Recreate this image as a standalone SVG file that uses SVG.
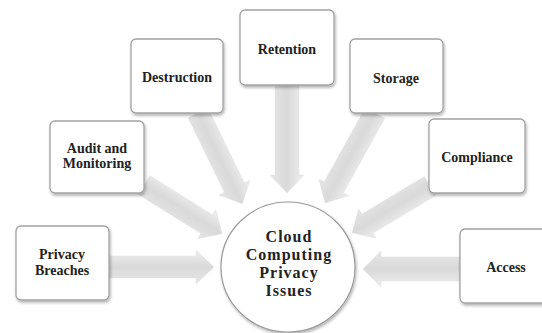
<svg xmlns="http://www.w3.org/2000/svg" width="542" height="333" viewBox="0 0 542 333">
<defs>
<linearGradient id="ag" x1="0" y1="0" x2="0" y2="1">
<stop offset="0" stop-color="#efefef"/>
<stop offset="0.5" stop-color="#d9d9d9"/>
<stop offset="1" stop-color="#e6e6e6"/>
</linearGradient>
<filter id="sh" x="-20%" y="-20%" width="140%" height="140%">
<feDropShadow dx="1" dy="2" stdDeviation="1.5" flood-color="#000" flood-opacity="0.3"/>
</filter>
</defs>
<style>
.box{fill:#fff;stroke:#a2a2a2;stroke-width:1.3;filter:url(#sh)}
.t{font-family:"Liberation Serif","Times New Roman",serif;font-weight:bold;font-size:14px;fill:#222;text-anchor:middle}
.c{font-family:"Liberation Serif","Times New Roman",serif;font-weight:bold;font-size:16px;letter-spacing:1px;fill:#222;text-anchor:middle}
.a{fill:url(#ag);stroke:#e0e0e0;stroke-width:0.5}
</style>
<rect width="542" height="333" fill="#fff"/>
<g id="connectors">
<path class="a" transform="translate(109,267)" d="M0,-11 L87,-11 L87,-17 L105,0 L87,17 L87,11 L0,11 Z"/>
<path class="a" transform="translate(460,269) rotate(180)" d="M0,-12 L79,-12 L79,-18 L97,0 L79,18 L79,12 L0,12 Z"/>
<path class="a" transform="translate(144,185) rotate(32)" d="M0,-11 L74,-11 L74,-17 L92,0 L74,17 L74,11 L0,11 Z"/>
<path class="a" transform="translate(198,113) rotate(64)" d="M0,-11 L83,-11 L83,-17 L101,0 L83,17 L83,11 L0,11 Z"/>
<path class="a" transform="translate(287,85) rotate(90)" d="M0,-12 L90,-12 L90,-17 L108,0 L90,17 L90,12 L0,12 Z"/>
<path class="a" transform="translate(375,113) rotate(119)" d="M0,-11 L85,-11 L85,-17 L103,0 L85,17 L85,11 L0,11 Z"/>
<path class="a" transform="translate(430,186) rotate(149)" d="M0,-11 L73,-11 L73,-17 L91,0 L73,17 L73,11 L0,11 Z"/>
</g>
<g id="privacy-breaches">
<rect class="box" x="16" y="226" width="93" height="74" rx="5"/>
<text class="t" x="62" y="259">Privacy</text>
<text class="t" x="62" y="275">Breaches</text>
</g>
<g id="audit-monitoring">
<rect class="box" x="50" y="121" width="94" height="72" rx="5"/>
<text class="t" x="97" y="153">Audit and</text>
<text class="t" x="97" y="168">Monitoring</text>
</g>
<g id="destruction">
<rect class="box" x="131" y="39" width="92" height="74" rx="5"/>
<text class="t" x="177" y="82">Destruction</text>
</g>
<g id="retention">
<rect class="box" x="240" y="10" width="94" height="75" rx="5"/>
<text class="t" x="287" y="54">Retention</text>
</g>
<g id="storage">
<rect class="box" x="350" y="39" width="93" height="74" rx="5"/>
<text class="t" x="396" y="83">Storage</text>
</g>
<g id="compliance">
<rect class="box" x="429" y="119" width="96" height="74" rx="5"/>
<text class="t" x="477" y="162">Compliance</text>
</g>
<g id="access">
<rect class="box" x="460" y="229" width="92" height="74" rx="5"/>
<text class="t" x="506" y="272">Access</text>
</g>
<g id="cloud-computing-privacy-issues">
<ellipse cx="288" cy="267" rx="67" ry="65" fill="#fff" stroke="#9a9a9a" stroke-width="1.2" filter="url(#sh)"/>
<text class="c" x="289" y="242">Cloud</text>
<text class="c" x="289" y="260">Computing</text>
<text class="c" x="289" y="278">Privacy</text>
<text class="c" x="289" y="296">Issues</text>
</g>
</svg>
